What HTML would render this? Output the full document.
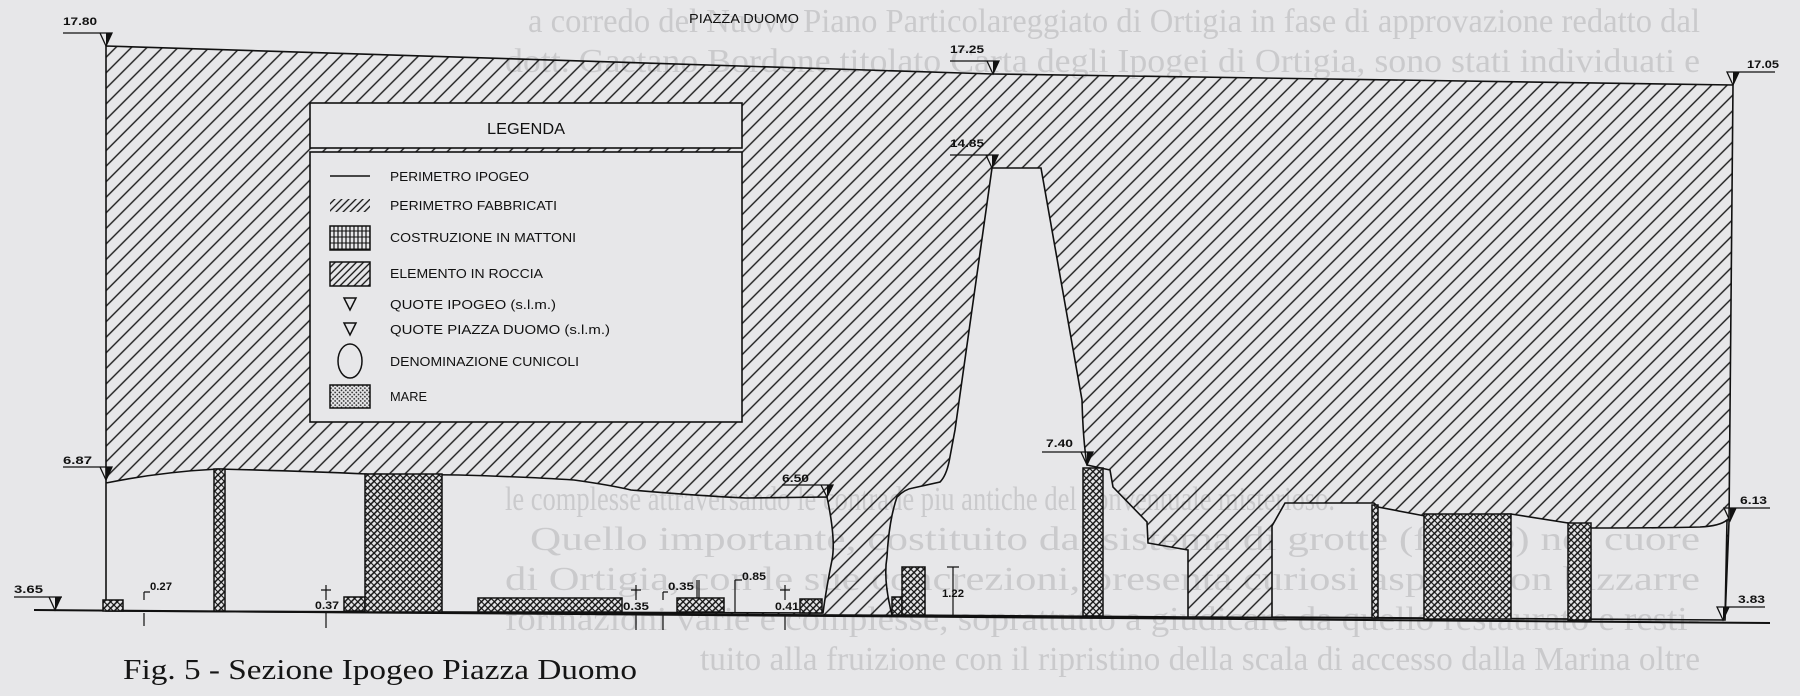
<!DOCTYPE html>
<html><head><meta charset="utf-8"><style>
html,body{margin:0;padding:0;background:#e7e7e9;}
svg{display:block}
</style></head><body>
<svg width="1800" height="696" viewBox="0 0 1800 696" xmlns="http://www.w3.org/2000/svg">
<defs>
<pattern id="h" width="11" height="11" patternUnits="userSpaceOnUse" patternTransform="rotate(45)">
<line x1="5.5" y1="0" x2="5.5" y2="11" stroke="#1a1a1a" stroke-width="1.4"/></pattern>
<pattern id="r" width="4.6" height="4.6" patternUnits="userSpaceOnUse" patternTransform="rotate(45)">
<rect width="4.6" height="4.6" fill="#e7e7e9"/>
<line x1="2.3" y1="0" x2="2.3" y2="4.6" stroke="#111" stroke-width="1.5"/>
<line x1="0" y1="2.3" x2="4.6" y2="2.3" stroke="#111" stroke-width="1.1"/></pattern>
<pattern id="b" width="4" height="6" patternUnits="userSpaceOnUse">
<rect width="4" height="6" fill="#e7e7e9"/>
<line x1="2" y1="0" x2="2" y2="6" stroke="#111" stroke-width="1.2"/>
<line x1="0" y1="3" x2="4" y2="3" stroke="#111" stroke-width="1"/></pattern>
<pattern id="m" width="3" height="3" patternUnits="userSpaceOnUse" patternTransform="rotate(45)">
<rect width="3" height="3" fill="#e7e7e9"/>
<circle cx="1.5" cy="1.5" r="0.9" fill="#222"/></pattern>
<pattern id="sh" width="5" height="5" patternUnits="userSpaceOnUse" patternTransform="rotate(45)">
<rect width="5" height="5" fill="#e7e7e9"/>
<line x1="2.5" y1="0" x2="2.5" y2="5" stroke="#111" stroke-width="1.3"/></pattern>
</defs>

<!-- show-through page text -->
<g font-family="Liberation Serif, serif" font-size="34" fill="#8e8e92" opacity="0.32">
<text x="528" y="32" textLength="1172" lengthAdjust="spacingAndGlyphs">a corredo del Nuovo Piano Particolareggiato di Ortigia in fase di approvazione redatto dal</text>
<text x="505" y="72" textLength="1195" lengthAdjust="spacingAndGlyphs">dott. Gaetano Bordone titolato Carta degli Ipogei di Ortigia, sono stati individuati e</text>
<text x="505" y="510" textLength="830" lengthAdjust="spacingAndGlyphs">le complesse attraversando le contrade piu antiche del conventuale misterioso.</text>
<text x="530" y="550" textLength="1170" lengthAdjust="spacingAndGlyphs">Quello importante, costituito dal sistema di grotte (foto 8) nel cuore</text>
<text x="505" y="590" textLength="1195" lengthAdjust="spacingAndGlyphs">di Ortigia, con le sue concrezioni, presenta curiosi aspetti con bizzarre</text>
<text x="505" y="630" textLength="1195" lengthAdjust="spacingAndGlyphs">formazioni varie e complesse, soprattutto a giudicare da quello restaurato e resti-</text>
<text x="700" y="670" textLength="1000" lengthAdjust="spacingAndGlyphs">tuito alla fruizione con il ripristino della scala di accesso dalla Marina oltre</text>
</g>

<path fill="url(#h)" fill-rule="evenodd" stroke="#111" stroke-width="1.6" d="
M106,46 L993,74 L1733,85 L1729,522 L1725,620 L106,611 Z
M106,483 Q160,472 218,469 Q300,471 367,474 L459,475 Q530,477 574,480 Q610,485 631,490 Q700,496 746,498 L827,497
Q836,540 832,560 Q826,590 823,613 L106,611 Z
M892,615 Q883,580 887,557 Q889,520 897,497 Q905,489 913,488 L940,482 Q946,476 949,462 L955,430 L992,168 L1041,168 L1082,400 Q1083,440 1087,465 L1110,470 L1113,487 L1147,522 L1148,543 L1188,550 L1188,617 Z
M1272,617 L1272,526 L1285,503 L1374,503 L1378,507 L1425,516 L1511,514 L1568,523 L1591,528 Q1660,528 1700,527 Q1720,526 1727,520 L1725,620 Z"/>

<line x1="34" y1="610" x2="1770" y2="623" stroke="#111" stroke-width="2"/>

<g stroke="#111" stroke-width="1.5" fill="url(#r)">
<rect x="103" y="600" width="20" height="11"/>
<rect x="214" y="469" width="11" height="142"/>
<rect x="344" y="597" width="21" height="14"/>
<rect x="365" y="474" width="77" height="138"/>
<rect x="478" y="598" width="144" height="14"/>
<rect x="677" y="598" width="47" height="14"/>
<rect x="800" y="599" width="22" height="14"/>
<rect x="892" y="597" width="10" height="18"/>
<rect x="902" y="567" width="23" height="48"/>
<rect x="1083" y="468" width="20" height="148"/>
<rect x="1372" y="505" width="6" height="113"/>
<rect x="1424" y="514" width="87" height="105"/>
<rect x="1568" y="523" width="23" height="97"/>
</g>

<rect x="310" y="103" width="432" height="45" fill="#e7e7e9" stroke="#111" stroke-width="1.6"/>
<rect x="310" y="152" width="432" height="270" fill="#e7e7e9" stroke="#111" stroke-width="1.6"/>
<g font-family="Liberation Sans, sans-serif" fill="#111">
<text x="526" y="134" font-size="16" text-anchor="middle" textLength="78" lengthAdjust="spacingAndGlyphs">LEGENDA</text>
<g font-size="13">
<text x="390" y="181" textLength="139" lengthAdjust="spacingAndGlyphs">PERIMETRO IPOGEO</text>
<text x="390" y="210" textLength="167" lengthAdjust="spacingAndGlyphs">PERIMETRO FABBRICATI</text>
<text x="390" y="242" textLength="186" lengthAdjust="spacingAndGlyphs">COSTRUZIONE IN MATTONI</text>
<text x="390" y="278" textLength="153" lengthAdjust="spacingAndGlyphs">ELEMENTO IN ROCCIA</text>
<text x="390" y="309" textLength="166" lengthAdjust="spacingAndGlyphs">QUOTE IPOGEO (s.l.m.)</text>
<text x="390" y="334" textLength="220" lengthAdjust="spacingAndGlyphs">QUOTE PIAZZA DUOMO (s.l.m.)</text>
<text x="390" y="366" textLength="189" lengthAdjust="spacingAndGlyphs">DENOMINAZIONE CUNICOLI</text>
<text x="390" y="401" textLength="37" lengthAdjust="spacingAndGlyphs">MARE</text>
</g></g>
<g stroke="#111" stroke-width="1.5">
<line x1="330" y1="176" x2="370" y2="176"/>
<rect x="330" y="199" width="40" height="13" fill="url(#sh)" stroke="none"/>
<rect x="330" y="226" width="40" height="24" fill="url(#b)"/>
<rect x="330" y="262" width="40" height="24" fill="url(#sh)"/>
<path d="M344,298 L356,298 L350,310 Z" fill="none"/>
<path d="M344,323 L356,323 L350,335 Z" fill="none"/>
<ellipse cx="350" cy="361" rx="12" ry="17" fill="none"/>
<rect x="330" y="385" width="40" height="23" fill="url(#m)"/>
</g>

<g stroke="#111" stroke-width="1.3" fill="none">
<path d="M63,33 L110,33 M100,33 L112,33 L106,46 Z"/>
<path d="M950,61 L999,61 M987,61 L999,61 L993,74 Z"/>
<path d="M950,155 L998,155 M986,155 L998,155 L992,168 Z"/>
<path d="M1042,452 L1093,452 M1081,452 L1093,452 L1087,465 Z"/>
<path d="M782,485 L833,485 M821,485 L833,485 L827,497 Z"/>
<path d="M63,467 L112,467 M100,467 L112,467 L106,480 Z"/>
<path d="M14,597 L62,597 M49,597 L61,597 L55,610 Z"/>
<path d="M1727,72 L1775,72 M1727,72 L1739,72 L1733,85 Z"/>
<path d="M1724,508 L1770,508 M1724,508 L1736,508 L1730,521 Z"/>
<path d="M1717,607 L1765,607 M1717,607 L1729,607 L1723,620 Z"/>
</g>
<g fill="#111">
<path d="M106,33 L112,33 L106,46 Z"/><path d="M993,61 L999,61 L993,74 Z"/>
<path d="M992,155 L998,155 L992,168 Z"/><path d="M1087,452 L1093,452 L1087,465 Z"/>
<path d="M827,485 L833,485 L827,497 Z"/><path d="M106,467 L112,467 L106,480 Z"/>
<path d="M55,597 L61,597 L55,610 Z"/><path d="M1733,72 L1739,72 L1733,85 Z"/>
<path d="M1730,508 L1736,508 L1730,521 Z"/><path d="M1723,607 L1729,607 L1723,620 Z"/>
</g>

<g stroke="#111" stroke-width="1.2" fill="none">
<path d="M144,592 L144,600 M144,592 L150,592 M144,613 L144,626"/>
<path d="M326,585 L326,600 M321,590 L331,590 M326,613 L326,628"/>
<path d="M636,585 L636,600 M631,590 L641,590 M636,614 L636,630"/>
<path d="M663,592 L663,600 M663,592 L668,592 M663,615 L663,630"/>
<path d="M697,580 L697,598 M699,580 L699,598"/>
<path d="M735,580 L735,612 M735,580 L742,580"/>
<path d="M785,585 L785,600 M780,590 L790,590 M785,615 L785,630"/>
<path d="M953,567 L953,615 M947,567 L959,567"/>
</g>

<g font-family="Liberation Sans, sans-serif" font-size="11" fill="#111" font-weight="bold">
<text x="63" y="25" textLength="34" lengthAdjust="spacingAndGlyphs">17.80</text>
<text x="950" y="53" textLength="34" lengthAdjust="spacingAndGlyphs">17.25</text>
<text x="950" y="147" textLength="34" lengthAdjust="spacingAndGlyphs">14.85</text>
<text x="1747" y="68" textLength="32" lengthAdjust="spacingAndGlyphs">17.05</text>
<text x="1046" y="447" textLength="27" lengthAdjust="spacingAndGlyphs">7.40</text>
<text x="782" y="482" textLength="27" lengthAdjust="spacingAndGlyphs">6.50</text>
<text x="63" y="464" textLength="29" lengthAdjust="spacingAndGlyphs">6.87</text>
<text x="14" y="593" textLength="29" lengthAdjust="spacingAndGlyphs">3.65</text>
<text x="1740" y="504" textLength="27" lengthAdjust="spacingAndGlyphs">6.13</text>
<text x="1738" y="603" textLength="27" lengthAdjust="spacingAndGlyphs">3.83</text>
<text x="150" y="590" textLength="22" lengthAdjust="spacingAndGlyphs">0.27</text>
<text x="315" y="609" textLength="24" lengthAdjust="spacingAndGlyphs">0.37</text>
<text x="623" y="610" textLength="26" lengthAdjust="spacingAndGlyphs">0.35</text>
<text x="668" y="590" textLength="26" lengthAdjust="spacingAndGlyphs">0.35</text>
<text x="742" y="580" textLength="24" lengthAdjust="spacingAndGlyphs">0.85</text>
<text x="775" y="610" textLength="24" lengthAdjust="spacingAndGlyphs">0.41</text>
<text x="942" y="597" textLength="22" lengthAdjust="spacingAndGlyphs">1.22</text>
<text x="689" y="23" font-weight="normal" font-size="13" textLength="110" lengthAdjust="spacingAndGlyphs">PIAZZA DUOMO</text>
</g>

<text x="123" y="679" font-family="Liberation Serif, serif" font-size="29" fill="#151515" textLength="514" lengthAdjust="spacingAndGlyphs">Fig. 5 - Sezione Ipogeo Piazza Duomo</text>
</svg>
</body></html>
